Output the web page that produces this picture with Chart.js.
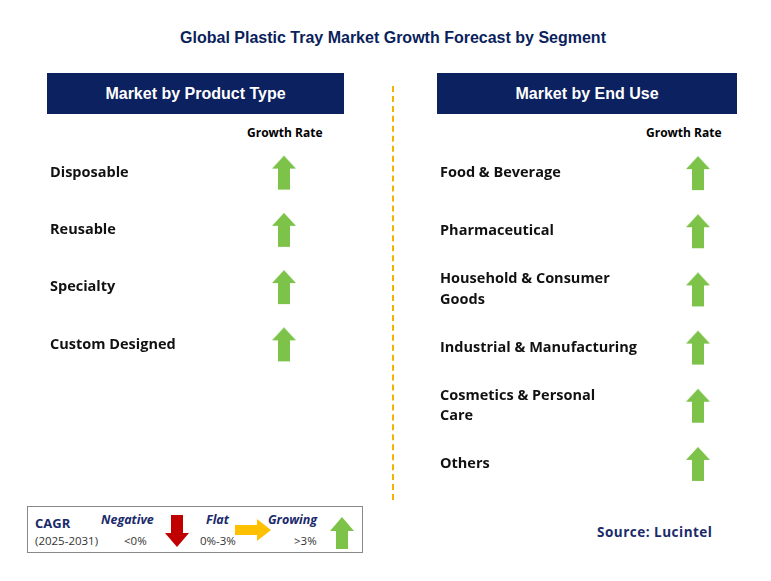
<!DOCTYPE html>
<html><head><meta charset="utf-8">
<script src="https://cdn.jsdelivr.net/npm/chart.js@4"></script>
<style>
body{margin:0;width:771px;height:581px;background:#fff;font-family:"Liberation Sans",Arial,sans-serif;position:relative;overflow:hidden}
.abs{position:absolute}
.title{left:0;width:786px;top:29px;text-align:center;font-weight:bold;font-size:16px;color:#0b1f5c}
.hdr{background:#0b2160;color:#fff;font-weight:bold;font-size:16px;text-align:center;line-height:41px;height:41px;top:73px}
.gr{font-family:"Open Sans";font-weight:bold;font-size:12px;color:#000;top:124px}
.div{left:392px;top:86px;height:414px;border-left:2px dashed #f2b400}
.leg{left:27px;top:506px;width:334px;height:45px;border:1px solid #888;font-family:"Open Sans";color:#1a2a6a}
</style></head><body>
<div class="abs title">Global Plastic Tray Market Growth Forecast by Segment</div>
<div class="abs hdr" style="left:47px;width:297px">Market by Product Type</div>
<div class="abs hdr" style="left:437px;width:300px">Market by End Use</div>
<div class="abs gr" style="left:247px">Growth Rate</div>
<div class="abs gr" style="left:646px">Growth Rate</div>
<div class="abs div"></div>
<div class="abs" style="left:50px;top:129px;width:294px;height:259px"><canvas id="c1"></canvas></div>
<div class="abs" style="left:440px;top:129px;width:316px;height:379px"><canvas id="c2"></canvas></div>
<div class="abs leg">
 <div class="abs" style="left:7px;top:7px;font-weight:bold;font-size:13px">CAGR</div>
 <div class="abs" style="left:7px;top:26px;font-size:11.5px;color:#333">(2025-2031)</div>
 <div class="abs" style="left:73px;top:4px;font-weight:bold;font-style:italic;font-size:12.5px">Negative</div>
 <div class="abs" style="left:96px;top:26px;font-size:11.5px;color:#333">&lt;0%</div>
 <div class="abs" style="left:178px;top:4px;font-weight:bold;font-style:italic;font-size:12.5px">Flat</div>
 <div class="abs" style="left:172px;top:26px;font-size:11.5px;color:#333">0%-3%</div>
 <div class="abs" style="left:240px;top:4px;font-weight:bold;font-style:italic;font-size:12.5px">Growing</div>
 <div class="abs" style="left:266px;top:26px;font-size:11.5px;color:#333">&gt;3%</div>
 <svg class="abs" style="left:137px;top:8px" width="24" height="32"><polygon points="6,0 18,0 18,18 24,18 12,32 0,18 6,18" fill="#c00000"/></svg>
 <svg class="abs" style="left:207px;top:12px" width="36" height="22"><polygon points="0,6 22,6 22,0 36,11 22,22 22,16 0,16" fill="#ffc000"/></svg>
 <svg class="abs" style="left:302px;top:10px" width="24" height="32"><polygon points="12,0 24,14 18,14 18,32 6,32 6,14 0,14" fill="#7dc34a"/></svg>
</div>
<div class="abs" style="left:597px;top:523px;font-family:'Open Sans';font-weight:bold;font-size:13.5px;letter-spacing:0.5px;color:#1a2a6a">Source: Lucintel</div>
<script>
const productTypes=["Disposable","Reusable","Specialty","Custom Designed"];
const productGrowth=["Growing","Growing","Growing","Growing"];
const endUses=[["Food & Beverage"],["Pharmaceutical"],["Household & Consumer","Goods"],["Industrial & Manufacturing"],["Cosmetics & Personal","Care"],["Others"]];
const endUseGrowth=["Growing","Growing","Growing","Growing","Growing","Growing"];

function arrow(){const c=document.createElement('canvas');c.width=26;c.height=36;const g=c.getContext('2d');
g.fillStyle='#7dc34a';g.beginPath();g.moveTo(13,1);g.lineTo(25,14);g.lineTo(19,14);g.lineTo(19,35);g.lineTo(7,35);g.lineTo(7,14);g.lineTo(1,14);g.closePath();g.fill();return c;}
const up=arrow();
function make(id,labels,growth,yw){
 const names=labels.map(l=>Array.isArray(l)?l.join('|'):l);
 new Chart(document.getElementById(id),{type:'scatter',
  data:{datasets:[{data:names.map((n,i)=>({x:'Growth Rate',y:n})),pointStyle:growth.map(()=>up),radius:14}]},
  options:{responsive:true,maintainAspectRatio:false,animation:false,layout:{padding:0},
   plugins:{legend:{display:false},tooltip:{enabled:false}},
   scales:{x:{type:'category',labels:['Growth Rate'],display:false},
    y:{type:'category',labels:names,offset:true,grid:{display:false},border:{display:false},
     afterFit(a){a.width=yw;},
     ticks:{crossAlign:'far',padding:0,color:'#111',font:{family:'"Open Sans"',weight:'bold',size:14.5,lineHeight:1.4},
      callback(v){const s=this.getLabelForValue(v);return s.includes('|')?s.split('|'):s;}}}}}});
}
make('c1',productTypes,productGrowth,234);
make('c2',endUses,endUseGrowth,258);
</script></body></html>
